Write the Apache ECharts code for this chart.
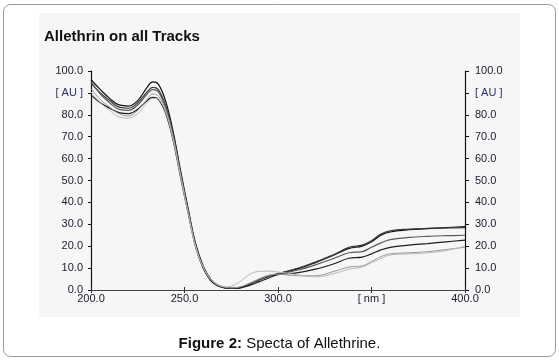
<!DOCTYPE html>
<html>
<head>
<meta charset="utf-8">
<script src="https://cdn.jsdelivr.net/npm/echarts@6/dist/echarts.min.js"></script>
<style>
  html, body { margin: 0; padding: 0; background: #fff; }
  #chart { width: 559px; height: 362px; }
</style>
</head>
<body>
<div id="chart"></div>
<script>
// wavelength grid (nm) shared by all tracks
const wavelengths = [200, 205, 210, 215, 220, 225, 230, 233, 236, 240, 244, 248, 252, 256, 260, 264, 268, 272, 276, 280, 285, 290, 295, 300, 310, 320, 330, 338, 345, 350, 355, 360, 370, 380, 390, 400];

// absorbance [AU] per track
const track1 = [96, 91.5, 87.5, 84.5, 84, 86.5, 92.5, 95, 94, 86, 72, 54, 37, 21, 11, 5, 2.2, 1.2, 0.8, 1.2, 2.8, 4.8, 6.3, 7.5, 9.5, 12.5, 16, 19, 20, 22, 25, 26.5, 27.5, 28, 28.5, 29];
const track2 = [94.5, 90, 86.5, 83.5, 83, 85.5, 90.5, 92.5, 91.5, 84, 71, 53, 36, 20.5, 10.5, 4.8, 2, 1, 0.7, 1.1, 2.6, 4.5, 6.2, 7.4, 9.8, 12.8, 16.2, 19.5, 20.5, 22.5, 25.5, 27, 27.8, 28.2, 28.3, 28.5];
const track3 = [95, 89.5, 85.5, 82.5, 82, 84.5, 89.5, 91.5, 90.5, 83, 70, 52.5, 35.5, 20, 10, 4.5, 1.9, 0.9, 0.8, 1.3, 3, 4.8, 6.2, 7.2, 9, 11.5, 14.5, 17, 17.5, 19.5, 21.5, 23, 24, 24.5, 24.8, 25];
const track4 = [89, 85.5, 83, 81, 80.5, 82.5, 86.5, 88, 87, 80.5, 68, 51, 35, 19.5, 10, 4.3, 1.8, 0.9, 0.7, 1, 2.2, 3.8, 5.5, 7, 7.8, 9.5, 12, 14.5, 15, 16.5, 18.3, 19.5, 20.5, 21.2, 22, 22.8];
const track5 = [92, 87, 83.5, 80.5, 79.5, 82, 87, 89.5, 88.5, 82, 69, 52, 35.5, 20, 10.5, 4.8, 2.2, 1.2, 1, 1.5, 3.2, 5.2, 6.8, 7.2, 6.5, 6.5, 8.5, 10.5, 11, 13, 15.2, 16.5, 17, 17.5, 18.5, 19.5];
const track6 = [90.5, 85.5, 82, 79, 78.5, 80.5, 85.5, 87.5, 87, 81, 68.5, 51.5, 35, 19.5, 10.5, 5, 2.4, 1.5, 2, 4, 7.2, 8.5, 8.6, 8.2, 7, 6, 7.5, 9.5, 10.5, 12.5, 14.3, 16, 16.5, 17, 18, 20];

const tracks = [track1, track2, track3, track4, track5, track6];
const trackColors = ['#111111', '#3a3a3a', '#5a5a5a', '#1c1c1c', '#9a9a9a', '#b8b8b8'];

const chart = echarts.init(document.getElementById('chart'));

const fmtY = v => v === 90 ? '{au|[ AU ]}' : v.toFixed(1);
const labelRich = { au: { color: '#2a2f6a', fontSize: 11, fontFamily: 'Liberation Sans' } };

chart.setOption({
  animation: false,
  textStyle: { fontFamily: 'Liberation Sans' },
  graphic: [
    { type: 'rect', shape: { x: 3.5, y: 4.5, width: 552, height: 352, r: 7 }, style: { fill: '#fff', stroke: '#9a9a9a', lineWidth: 1 }, z: -10 },
    { type: 'rect', shape: { x: 39, y: 13, width: 481, height: 304 }, style: { fill: '#f6f6f6' }, z: -9 },
    {
      type: 'text', left: 'center', top: 336,
      style: {
        text: '{b|Figure 2:} Specta of Allethrine.',
        fontSize: 15, fontFamily: 'Liberation Sans', fill: '#111',
        rich: { b: { fontWeight: 'bold', fontSize: 15, fontFamily: 'Liberation Sans', fill: '#111' } }
      }
    }
  ],
  title: {
    text: 'Allethrin on all Tracks', left: 39, top: 24,
    textStyle: { fontSize: 15, fontWeight: 'bold', color: '#111', fontFamily: 'Liberation Sans' }
  },
  grid: { left: 91, top: 71, right: 94, bottom: 72 },
  xAxis: [
    {
      type: 'value', min: 200, max: 400, interval: 50, position: 'bottom',
      axisLine: { lineStyle: { color: '#333', width: 1 } },
      axisTick: { show: true, length: 3, inside: true, lineStyle: { color: '#333' } },
      splitLine: { show: false },
      axisLabel: { formatter: v => v === 350 ? '[ nm ]' : v.toFixed(1), color: '#1a1a2e', fontSize: 11, margin: 3 }
    },
    {
      type: 'value', min: 200, max: 400, interval: 50, position: 'top',
      axisLine: { lineStyle: { color: '#444', width: 1 } },
      axisTick: { show: true, length: 3, inside: true, lineStyle: { color: '#333' } },
      splitLine: { show: false },
      axisLabel: { show: false }
    }
  ],
  yAxis: [
    {
      type: 'value', min: 0, max: 100, interval: 10, position: 'left',
      axisLine: { show: true, lineStyle: { color: '#111', width: 1.2 } },
      axisTick: { show: true, length: 3, lineStyle: { color: '#111' } },
      splitLine: { show: false },
      axisLabel: { formatter: fmtY, rich: labelRich, color: '#1a1a2e', fontSize: 11, margin: 8 }
    },
    {
      type: 'value', min: 0, max: 100, interval: 10, position: 'right',
      axisLine: { show: true, lineStyle: { color: '#111', width: 1.2 } },
      axisTick: { show: true, length: 4, lineStyle: { color: '#111' } },
      splitLine: { show: false },
      axisLabel: { formatter: fmtY, rich: labelRich, color: '#1a1a2e', fontSize: 11, margin: 10 }
    }
  ],
  series: tracks.map((vals, i) => ({
    type: 'line',
    smooth: 0.4,
    showSymbol: false,
    xAxisIndex: 0,
    yAxisIndex: 0,
    lineStyle: { color: trackColors[i], width: i < 4 ? 1.2 : 1 },
    data: wavelengths.map((w, k) => [w, vals[k]])
  }))
});

window.addEventListener('resize', () => chart.resize());
</script>
</body>
</html>
